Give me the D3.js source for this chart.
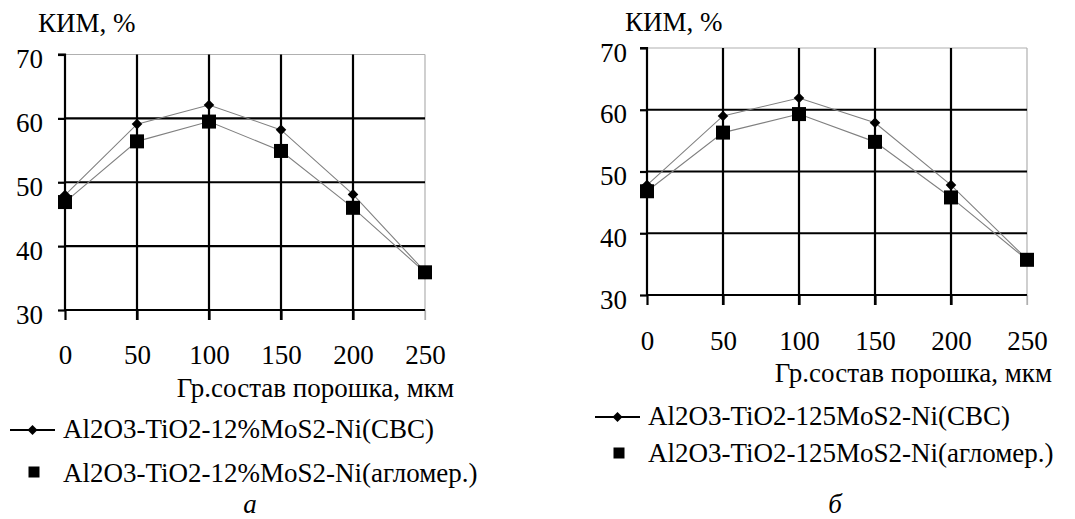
<!DOCTYPE html>
<html><head><meta charset="utf-8">
<script src="https://cdn.jsdelivr.net/npm/d3@7"></script>
<style>
html,body{margin:0;padding:0;background:#fff;}
svg{display:block;}
</style></head>
<body>
<svg id="chart" width="1075" height="519"></svg>
<script>
const xValues = [0, 50, 100, 150, 200, 250];
const yTicks = [30, 40, 50, 60, 70];
const xTicks = [0, 50, 100, 150, 200, 250];

const seriesA_CBC = [48, 59.1, 62.1, 58.2, 48.1, 36];
const seriesA_Aggl = [46.9, 56.4, 59.5, 54.9, 46, 35.9];
const seriesB_CBC = [47.8, 59.0, 61.9, 57.9, 47.8, 35.8];
const seriesB_Aggl = [46.8, 56.3, 59.3, 54.8, 45.8, 35.7];

const yLabel = "КИМ, %";
const xLabel = "Гр.состав порошка, мкм";
const legendA = ["Al2O3-TiO2-12%MoS2-Ni(СВС)", "Al2O3-TiO2-12%MoS2-Ni(агломер.)"];
const legendB = ["Al2O3-TiO2-125MoS2-Ni(СВС)", "Al2O3-TiO2-125MoS2-Ni(агломер.)"];
const captions = ["а", "б"];

const FONT = "Liberation Serif";
const FS = 27;

const panels = [
  {x0: 65, x1: 425, yTop: 54.5, yBot: 310, cbc: seriesA_CBC, agg: seriesA_Aggl, legend: legendA, caption: captions[0],
   yLabelPos: [38, 32], xLabelPos: [454, 397], legBase: [438, 482], legSym: [430, 472], legLine: [10, 55], legSq: 34, legText: 63,
   capPos: [250, 513], tickBase: 364, yLabGap: 22},
  {x0: 647, x1: 1027, yTop: 48, yBot: 295, cbc: seriesB_CBC, agg: seriesB_Aggl, legend: legendB, caption: captions[1],
   yLabelPos: [625, 31], xLabelPos: [1052, 382], legBase: [425, 462], legSym: [417, 453], legLine: [595, 640], legSq: 619, legText: 648,
   capPos: [835, 513], tickBase: 350, yLabGap: 20}
];

const svg = d3.select("#chart");

panels.forEach(p => {
  const x = d3.scaleLinear().domain([0, 250]).range([p.x0, p.x1]);
  const y = d3.scaleLinear().domain([30, 70]).range([p.yBot, p.yTop]);
  const g = svg.append("g");

  g.append("line").attr("x1", p.x0).attr("x2", p.x1).attr("y1", y(70)).attr("y2", y(70))
    .attr("stroke", "#b0b0b0").attr("stroke-width", 1.2);
  g.append("line").attr("x1", x(250)).attr("x2", x(250)).attr("y1", y(70)).attr("y2", y(30) + 10)
    .attr("stroke", "#b0b0b0").attr("stroke-width", 1.2);

  g.selectAll(".hg").data(yTicks.filter(t => t > 30 && t < 70)).enter().append("line")
    .attr("x1", p.x0).attr("x2", p.x1).attr("y1", d => y(d)).attr("y2", d => y(d))
    .attr("stroke", "#000").attr("stroke-width", 2.2);
  g.selectAll(".vg").data(xTicks.filter(t => t > 0 && t < 250)).enter().append("line")
    .attr("x1", d => x(d)).attr("x2", d => x(d)).attr("y1", y(70)).attr("y2", y(30) + 10)
    .attr("stroke", "#000").attr("stroke-width", 2.2);

  const yAxis = d3.axisLeft(y).tickValues(yTicks).tickSize(7).tickPadding(p.yLabGap - 7).tickFormat(d3.format("d"));
  const ya = g.append("g").attr("transform", `translate(${p.x0},0)`).call(yAxis);
  ya.attr("font-family", FONT).attr("font-size", FS);
  ya.select(".domain").attr("stroke", "#000").attr("stroke-width", 2.2).attr("d", `M-7,${y(70)}H0V${y(30)}`);
  ya.selectAll(".tick line").attr("stroke", "#000").attr("stroke-width", 2.2);
  ya.selectAll(".tick text").attr("font-family", FONT).attr("font-size", FS).attr("fill", "#000")
    .attr("dy", null).attr("y", 13);

  const xAxis = d3.axisBottom(x).tickValues(xTicks).tickSize(10).tickPadding(0).tickFormat(d3.format("d"));
  const xa = g.append("g").attr("transform", `translate(0,${p.yBot})`).call(xAxis);
  xa.attr("font-family", FONT).attr("font-size", FS);
  xa.select(".domain").attr("stroke", "#000").attr("stroke-width", 2.2).attr("d", `M${p.x0},0H${p.x1}`);
  xa.selectAll(".tick line").attr("stroke", d => d === 250 ? "#b0b0b0" : "#000").attr("stroke-width", d => d === 250 ? 1.2 : 2.2);
  xa.selectAll(".tick text").attr("font-family", FONT).attr("font-size", FS).attr("fill", "#000")
    .attr("dy", null).attr("y", p.tickBase - p.yBot);

  const line = d3.line().x((d, i) => x(xValues[i])).y(d => y(d));

  g.append("path").attr("d", line(p.cbc)).attr("fill", "none").attr("stroke", "#808080").attr("stroke-width", 1.1);
  g.append("path").attr("d", line(p.agg)).attr("fill", "none").attr("stroke", "#808080").attr("stroke-width", 1.1);

  g.selectAll(".dm").data(p.cbc).enter().append("path")
    .attr("d", d3.symbol().type(d3.symbolSquare).size(56))
    .attr("transform", (d, i) => `translate(${x(xValues[i])},${y(d)}) rotate(45)`)
    .attr("fill", "#000");
  const sq = 14;
  g.selectAll(".sq").data(p.agg).enter().append("rect")
    .attr("x", (d, i) => x(xValues[i]) - sq / 2).attr("y", d => y(d) - sq / 2)
    .attr("width", sq).attr("height", sq).attr("fill", "#000");

  const txt = (sel) => sel.attr("font-family", FONT).attr("font-size", FS).attr("fill", "#000");

  txt(g.append("text")).attr("x", p.yLabelPos[0]).attr("y", p.yLabelPos[1]).text(yLabel);
  txt(g.append("text")).attr("x", p.xLabelPos[0]).attr("y", p.xLabelPos[1]).attr("text-anchor", "end").text(xLabel);

  g.append("line").attr("x1", p.legLine[0]).attr("x2", p.legLine[1]).attr("y1", p.legSym[0]).attr("y2", p.legSym[0])
    .attr("stroke", "#000").attr("stroke-width", 2);
  g.append("path").attr("d", d3.symbol().type(d3.symbolSquare).size(50))
    .attr("transform", `translate(${(p.legLine[0] + p.legLine[1]) / 2},${p.legSym[0]}) rotate(45)`).attr("fill", "#000");
  g.append("rect").attr("x", p.legSq - 5.5).attr("y", p.legSym[1] - 5.5).attr("width", 11).attr("height", 11).attr("fill", "#000");
  txt(g.selectAll(".lt").data(p.legend).enter().append("text"))
    .attr("x", p.legText).attr("y", (d, i) => p.legBase[i]).text(d => d);

  txt(g.append("text")).attr("x", p.capPos[0]).attr("y", p.capPos[1]).attr("text-anchor", "middle")
    .attr("font-style", "italic").text(p.caption);
});
</script>
</body></html>
